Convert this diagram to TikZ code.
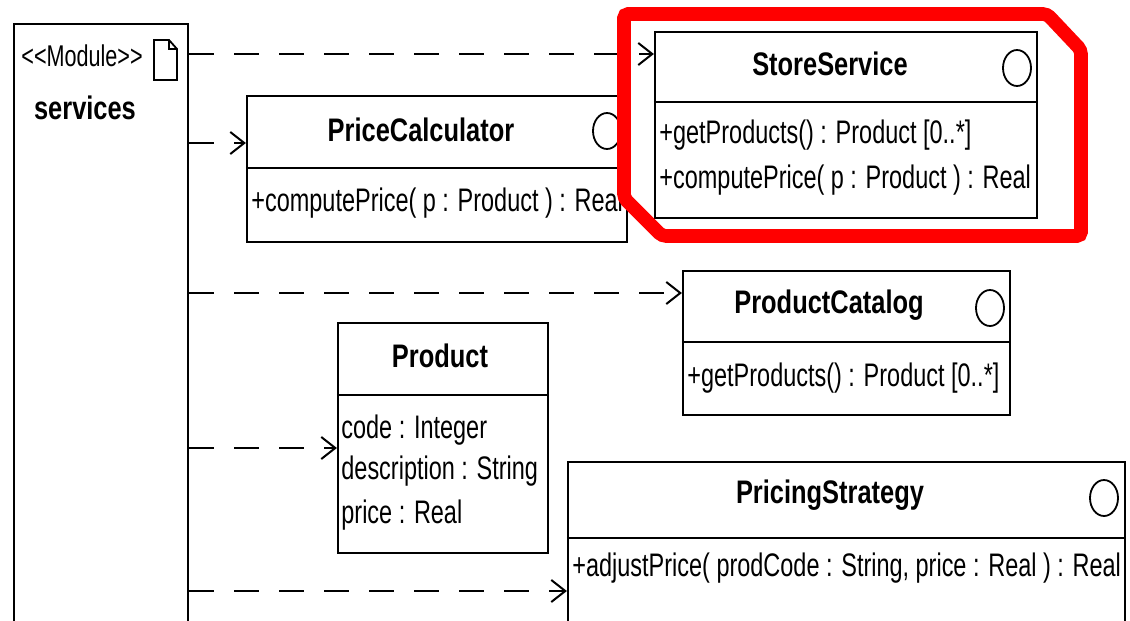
\documentclass[tikz,border=0pt]{standalone}
\usepackage{fontspec}
\setmainfont{Liberation Sans}[FakeStretch=0.72,BoldFeatures={FakeStretch=0.78}]
\usetikzlibrary{arrows.meta,positioning,fit,shapes.geometric}
\definecolor{markred}{RGB}{255,0,0}

\begin{document}
\begin{tikzpicture}[x=0.5pt,y=-0.5pt,
  box/.style={draw,line width=1.1pt,fill=white,inner sep=0pt},
  cname/.style={font=\fontsize{16.3}{19}\selectfont\bfseries,inner sep=0pt},
  member/.style={font=\fontsize{16.3}{19}\selectfont,anchor=west,inner sep=0pt},
  iface/.style={draw,ellipse,line width=0.9pt,minimum width=14pt,minimum height=18pt,inner sep=0pt},
  dep/.style={line width=1pt,dash pattern=on 12.5pt off 10pt,
    -{Straight Barb[length=7pt,width=11pt,line width=1pt]}}]
  \useasboundingbox (0,0) rectangle (1130,621);
  \clip (0,0) rectangle (1130,621);
  \fill[white] (0,0) rectangle (1130,621);

  % module
  \node[box,fit={(14,24) (188,660)}] (services) {};
  \node[member,font=\fontsize{15}{18}\selectfont] (stereo) at (21,56) {<\kern0pt<Module>\kern0pt>};
  \draw[line width=0.9pt] (154,40) -- (169,40) -- (177,49) -- (177,80) -- (154,80) -- cycle
    (169,40) -- (169,49) -- (177,49);
  \node[cname] (modname) at (85,108) {services};

  % interfaces and classes
  \node[box,fit={(247,96) (627,242)}] (calc) {};
  \draw[line width=1.1pt] (calc.west |- 0,168) -- (calc.east |- 0,168);
  \node[cname] (calcname) at (421,130) {PriceCalculator};
  \node[iface] (calcicon) at (607,131) {};
  \node[member] (calcop) at (251,203) {+computePrice( p : Product ) : Real};

  \node[box,fit={(655,32) (1037,218)}] (store) {};
  \draw[line width=1.1pt] (store.west |- 0,102) -- (store.east |- 0,102);
  \node[cname] (storename) at (830,64) {StoreService};
  \node[iface] (storeicon) at (1017,68) {};
  \node[member] (storeop1) at (659,135) {+getProducts() : Product [0..*]};
  \node[member] (storeop2) at (659,180) {+computePrice( p : Product ) : Real};

  \node[box,fit={(683,271) (1010,415)}] (catalog) {};
  \draw[line width=1.1pt] (catalog.west |- 0,342) -- (catalog.east |- 0,342);
  \node[cname] (catname) at (829,305) {ProductCatalog};
  \node[iface] (caticon) at (990,308) {};
  \node[member] (catop) at (687,378) {+getProducts() : Product [0..*]};

  \node[box,fit={(338,323) (548,553)}] (product) {};
  \draw[line width=1.1pt] (product.west |- 0,395) -- (product.east |- 0,395);
  \node[cname] (prodname) at (440,356) {Product};
  \node[member] (attr1) at (341,430) {code : Integer};
  \node[member] (attr2) at (341,471) {description : String};
  \node[member] (attr3) at (341,515) {price : Real};

  \node[box,fit={(568,462) (1125,660)}] (strategy) {};
  \draw[line width=1.1pt] (strategy.west |- 0,538) -- (strategy.east |- 0,538);
  \node[cname] (stratname) at (830,495) {PricingStrategy};
  \node[iface] (straticon) at (1104,498) {};
  \node[member] (stratop) at (572,568) {+adjustPrice( prodCode : String, price : Real ) : Real};

  % dependencies
  \draw[dep] (services.east |- 0,54) -- (store.west |- 0,54);
  \draw[dep] (services.east |- 0,143) -- (calc.west |- 0,143);
  \draw[dep] (services.east |- 0,293) -- (catalog.west |- 0,293);
  \draw[dep] (services.east |- 0,448) -- (product.west |- 0,448);
  \draw[dep] (services.east |- 0,591) -- (strategy.west |- 0,591);

  % highlight
  \draw[markred,line width=6.8pt,rounded corners=2pt]
    (624,14) -- (1047,14) -- (1081,50) -- (1081,236) -- (662,236) -- (624,198) -- cycle;
\end{tikzpicture}
\end{document}
